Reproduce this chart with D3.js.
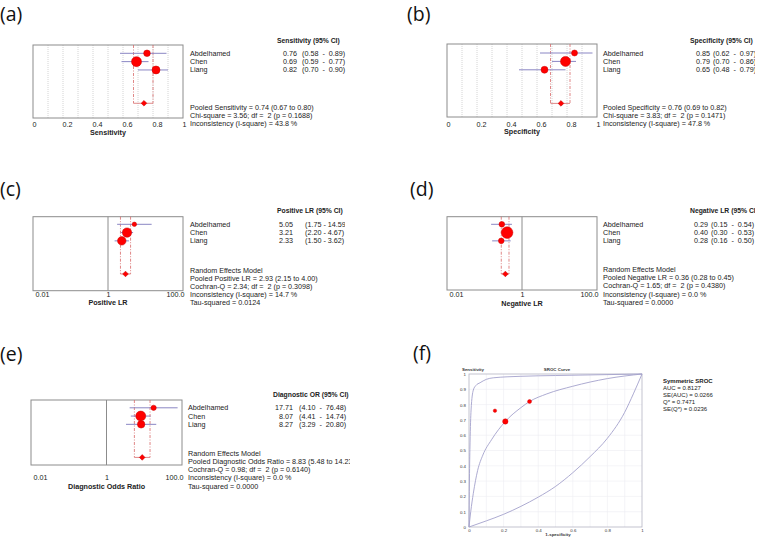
<!DOCTYPE html>
<html>
<head>
<meta charset="utf-8">
<script src="https://cdn.jsdelivr.net/npm/d3@7"></script>
<style>
  body { margin: 0; background: #fff; }
  svg { display: block; font-family: "Liberation Sans", Arial, sans-serif; }
  .txt { font-size: 7.2px; fill: #222; white-space: pre; }
  .bold { font-weight: bold; }
  .hdr { font-size: 6.8px; }
  .tiny { font-size: 4.4px; fill: #333; }
  .legend { font-size: 6px; fill: #222; }
  .panel-label { font-family: "Open Sans", sans-serif; font-size: 19.5px; fill: #111; }
</style>
</head>
<body>
<div id="chart"></div>
<script>
// ---- data ----
const studies = ['Abdelhamed', 'Chen', 'Liang'];

const sensEst = [0.76, 0.69, 0.82];
const sensLo = [0.58, 0.59, 0.70];
const sensHi = [0.89, 0.77, 0.90];
const sensWeight = [11, 25, 16];
const sensPooled = [0.74, 0.67, 0.80];

const specEst = [0.85, 0.79, 0.65];
const specLo = [0.62, 0.70, 0.48];
const specHi = [0.97, 0.86, 0.79];
const specWeight = [9, 25, 12];
const specPooled = [0.76, 0.69, 0.82];

const plrEst = [5.05, 3.21, 2.33];
const plrLo = [1.75, 2.20, 1.50];
const plrHi = [14.59, 4.67, 3.62];
const plrWeight = [5, 22, 18];
const plrPooled = [2.93, 2.15, 4.00];

const nlrEst = [0.29, 0.40, 0.28];
const nlrLo = [0.15, 0.30, 0.16];
const nlrHi = [0.54, 0.53, 0.50];
const nlrWeight = [8, 34, 8];
const nlrPooled = [0.36, 0.28, 0.45];

const dorEst = [17.71, 8.07, 8.27];
const dorLo = [4.10, 4.41, 3.29];
const dorHi = [76.48, 14.74, 20.80];
const dorWeight = [7, 25, 14];
const dorPooled = [8.83, 5.48, 14.23];

const linTicks = [0, 0.2, 0.4, 0.6, 0.8, 1];
const logTicks = [0.01, 1, 100];
const logTickLabels = ['0.01', '1', '100.0'];

// SROC curves: [1-specificity, sensitivity]
const srocMidFpr = [0, 0.01, 0.025, 0.05, 0.08, 0.13, 0.21, 0.3, 0.35, 0.45, 0.6, 0.8, 1];
const srocMidTpr = [0, 0.1, 0.22, 0.37, 0.47, 0.57, 0.69, 0.78, 0.82, 0.87, 0.92, 0.97, 1];
const srocUpFpr = [0, 0.003, 0.006, 0.012, 0.025, 0.04, 0.064, 0.1, 0.14, 0.3, 0.5, 0.7, 1];
const srocUpTpr = [0, 0.35, 0.55, 0.765, 0.895, 0.925, 0.943, 0.965, 0.975, 0.985, 0.99, 0.994, 1];
const srocLowFpr = [0, 0.1, 0.2, 0.3, 0.4, 0.5, 0.6, 0.7, 0.8, 0.9, 0.95, 1];
const srocLowTpr = [0, 0.04, 0.083, 0.135, 0.195, 0.265, 0.355, 0.46, 0.58, 0.75, 0.87, 1];
const srocWeight = [3, 7.3, 4];
const srocStats = ['AUC = 0.8127', 'SE(AUC) = 0.0266', 'Q* = 0.7471', 'SE(Q*) = 0.0236'];

const f2 = d3.format('.2f');

const sensStats = [
	`Pooled Sensitivity = ${f2(sensPooled[0])} (${f2(sensPooled[1])} to ${f2(sensPooled[2])})`,
	'Chi-square = 3.56; df =  2 (p = 0.1688)',
	'Inconsistency (I-square) = 43.8 %'];
const specStats = [
	`Pooled Specificity = ${f2(specPooled[0])} (${f2(specPooled[1])} to ${f2(specPooled[2])})`,
	'Chi-square = 3.83; df =  2 (p = 0.1471)',
	'Inconsistency (I-square) = 47.8 %'];
const plrStats = ['Random Effects Model',
	`Pooled Positive LR = ${f2(plrPooled[0])} (${f2(plrPooled[1])} to ${f2(plrPooled[2])})`,
	'Cochran-Q = 2.34; df =  2 (p = 0.3098)',
	'Inconsistency (I-square) = 14.7 %',
	'Tau-squared = 0.0124'];
const nlrStats = ['Random Effects Model',
	`Pooled Negative LR = ${f2(nlrPooled[0])} (${f2(nlrPooled[1])} to ${f2(nlrPooled[2])})`,
	'Cochran-Q = 1.65; df =  2 (p = 0.4380)',
	'Inconsistency (I-square) = 0.0 %',
	'Tau-squared = 0.0000'];
const dorStats = ['Random Effects Model',
	`Pooled Diagnostic Odds Ratio = ${f2(dorPooled[0])} (${f2(dorPooled[1])} to ${f2(dorPooled[2])})`,
	'Cochran-Q = 0.98; df =  2 (p = 0.6140)',
	'Inconsistency (I-square) = 0.0 %',
	'Tau-squared = 0.0000'];

// ---- layout ----
const W = 760, H = 538;
const svg = d3.select('#chart').append('svg').attr('width', W).attr('height', H);
svg.append('rect').attr('width', W).attr('height', H).attr('fill', '#fff');

const panels = [
	{ id: 'a', label: '(a)', labelX: 0, labelY: 21, log: false, x0: 33, x1: 183, top: 45, bottom: 118, row0: 53.3, step: 8.33,
		header: 'Sensitivity (95% CI)', headerX: 277, headerY: 41, nameX: 190, valX: 297, ciX: 302, ciSep: '  -  ', clipR: 346,
		stats0: 107, statsStep: 8, tickY: 124, title: 'Sensitivity', titleY: 132,
		est: sensEst, lo: sensLo, hi: sensHi, w: sensWeight, pooled: sensPooled, stats: sensStats },
	{ id: 'b', label: '(b)', labelX: 407, labelY: 21, log: false, x0: 447, x1: 597, top: 44, bottom: 117, row0: 53, step: 8.4,
		header: 'Specificity (95% CI)', headerX: 690, headerY: 41, nameX: 603, valX: 710, ciX: 713, ciSep: '  -  ', clipR: 755,
		stats0: 107.3, statsStep: 8, tickY: 124, title: 'Specificity', titleY: 131.7,
		est: specEst, lo: specLo, hi: specHi, w: specWeight, pooled: specPooled, stats: specStats },
	{ id: 'c', label: '(c)', labelX: 0, labelY: 196, log: true, x0: 33, x1: 183, top: 216.7, bottom: 290.7, row0: 224.3, step: 8.28,
		header: 'Positive LR (95% CI)', headerX: 277, headerY: 211, nameX: 190, valX: 293, ciX: 305, ciSep: ' - ', clipR: 345,
		stats0: 270, statsStep: 8.2, tickY: 294.3, title: 'Positive LR', titleY: 302.7,
		est: plrEst, lo: plrLo, hi: plrHi, w: plrWeight, pooled: plrPooled, stats: plrStats },
	{ id: 'd', label: '(d)', labelX: 410, labelY: 196, log: true, x0: 447, x1: 597, top: 216.7, bottom: 290, row0: 224.3, step: 8.28,
		header: 'Negative LR (95% CI)', headerX: 690, headerY: 211, nameX: 603, valX: 708, ciX: 711, ciSep: '  -  ', clipR: 755,
		stats0: 269.5, statsStep: 8.2, tickY: 294.7, title: 'Negative LR', titleY: 303.3,
		est: nlrEst, lo: nlrLo, hi: nlrHi, w: nlrWeight, pooled: nlrPooled, stats: nlrStats },
	{ id: 'e', label: '(e)', labelX: 0, labelY: 361, log: true, x0: 31, x1: 182, top: 400, bottom: 465, row0: 407.8, step: 8.27,
		header: 'Diagnostic OR (95% CI)', headerX: 273, headerY: 395, nameX: 188, valX: 293, ciX: 299, ciSep: '  -  ', clipR: 350,
		stats0: 453.3, statsStep: 8.2, tickY: 477.7, title: 'Diagnostic Odds Ratio', titleY: 486.7,
		est: dorEst, lo: dorLo, hi: dorHi, w: dorWeight, pooled: dorPooled, stats: dorStats }
];

const rScale = d3.scaleSqrt().domain([0, 25]).range([0, 5]);

function drawForest(cfg) {
	const g = svg.append('g').attr('class', 'panel-' + cfg.id);

	const x = cfg.log
		? d3.scaleLog().domain([0.01, 100]).range([cfg.x0, cfg.x1])
		: d3.scaleLinear().domain([0, 1]).range([cfg.x0, cfg.x1]);
	const y = d3.scaleLinear().domain([0, 1]).range([cfg.row0, cfg.row0 + cfg.step]);
	const pooledRow = 6;

	// panel letter
	svg.append('text').attr('class', 'panel-label').attr('x', cfg.labelX).attr('y', cfg.labelY).text(cfg.label);

	// grid / reference line
	if (!cfg.log) {
		g.selectAll('.grid').data(d3.range(1, 10).map(d => d / 10)).join('line')
			.attr('x1', d => x(d)).attr('x2', d => x(d))
			.attr('y1', cfg.top).attr('y2', cfg.bottom)
			.attr('stroke', '#d4d4d4').attr('stroke-dasharray', '1,1');
	} else {
		g.append('line').attr('x1', x(1)).attr('x2', x(1)).attr('y1', cfg.top).attr('y2', cfg.bottom)
			.attr('stroke', '#8c8c8c');
	}

	// box
	g.append('rect').attr('x', cfg.x0).attr('y', cfg.top)
		.attr('width', cfg.x1 - cfg.x0).attr('height', cfg.bottom - cfg.top)
		.attr('fill', 'none').attr('stroke', '#8c8c8c');

	// pooled CI lines
	const yp = y(pooledRow);
	g.selectAll('.pci').data([cfg.pooled[1], cfg.pooled[2]]).join('line')
		.attr('x1', d => x(d)).attr('x2', d => x(d))
		.attr('y1', cfg.top).attr('y2', yp)
		.attr('stroke', '#d86a6a').attr('stroke-width', 0.8).attr('stroke-dasharray', '3,1.5,1,1.5');
	g.append('line').attr('x1', x(cfg.pooled[1])).attr('x2', x(cfg.pooled[2]))
		.attr('y1', yp).attr('y2', yp).attr('stroke', '#d86a6a').attr('stroke-width', 0.8);

	// study CIs
	g.selectAll('.ci').data(studies).join('line')
		.attr('x1', (_, i) => x(cfg.lo[i])).attr('x2', (_, i) => x(cfg.hi[i]))
		.attr('y1', (_, i) => y(i)).attr('y2', (_, i) => y(i))
		.attr('stroke', '#8a86c4').attr('stroke-width', 1);

	// study markers
	g.selectAll('.mk').data(studies).join('circle')
		.attr('cx', (_, i) => x(cfg.est[i])).attr('cy', (_, i) => y(i))
		.attr('r', (_, i) => rScale(cfg.w[i]))
		.attr('fill', '#ff0000').attr('stroke', '#c80000').attr('stroke-width', 0.5);

	// pooled marker
	g.append('path').attr('d', d3.symbol(d3.symbolSquare, 16)())
		.attr('transform', `translate(${x(cfg.pooled[0])},${yp}) rotate(45)`)
		.attr('fill', '#ff0000').attr('stroke', '#c80000').attr('stroke-width', 0.5);

	// axis
	const axis = d3.axisBottom(x).tickValues(cfg.log ? logTicks : linTicks).tickSize(0)
		.tickFormat((d, i) => cfg.log ? logTickLabels[i] : (d === 0 || d === 1 ? String(d) : d.toFixed(1)));
	const ag = g.append('g').attr('transform', `translate(0,${cfg.tickY})`).call(axis)
		.attr('font-size', null).attr('font-family', null);
	ag.select('.domain').remove();
	ag.selectAll('text').attr('class', 'txt').attr('y', 0).attr('dy', '0.35em')
		.attr('text-anchor', (d, i) => cfg.log ? ['start', 'middle', 'end'][i] : 'start')
		.attr('dx', (d, i) => cfg.log ? [2, 0, 1][i] : -1);

	g.append('text').attr('class', 'txt bold').attr('text-anchor', 'middle')
		.attr('x', (cfg.x0 + cfg.x1) / 2).attr('y', cfg.titleY).attr('dy', '0.35em').text(cfg.title);

	// text columns (clipped on the right like the original export)
	svg.append('clipPath').attr('id', 'clip-' + cfg.id).append('rect')
		.attr('x', cfg.x1).attr('y', cfg.top - 20).attr('width', cfg.clipR - cfg.x1).attr('height', 120);
	const tg = svg.append('g').attr('clip-path', `url(#clip-${cfg.id})`);

	tg.append('text').attr('class', 'txt bold hdr').attr('x', cfg.headerX).attr('y', cfg.headerY)
		.attr('dy', '0.35em').text(cfg.header);
	tg.selectAll('.nm').data(studies).join('text').attr('class', 'txt')
		.attr('x', cfg.nameX).attr('y', (_, i) => y(i)).attr('dy', '0.35em').text(d => d);
	tg.selectAll('.val').data(studies).join('text').attr('class', 'txt').attr('text-anchor', 'end')
		.attr('x', cfg.valX).attr('y', (_, i) => y(i)).attr('dy', '0.35em').text((_, i) => f2(cfg.est[i]));
	tg.selectAll('.cit').data(studies).join('text').attr('class', 'txt')
		.attr('x', cfg.ciX).attr('y', (_, i) => y(i)).attr('dy', '0.35em')
		.text((_, i) => `(${f2(cfg.lo[i])}${cfg.ciSep}${f2(cfg.hi[i])})`);
	tg.selectAll('.st').data(cfg.stats).join('text').attr('class', 'txt')
		.attr('x', cfg.nameX).attr('y', (_, i) => cfg.stats0 + i * cfg.statsStep).attr('dy', '0.35em').text(d => d);
}

panels.forEach(drawForest);

// ---- (f) SROC ----
svg.append('text').attr('class', 'panel-label').attr('x', 413).attr('y', 360).text('(f)');

const sx = d3.scaleLinear().domain([0, 1]).range([469, 642]);
const sy = d3.scaleLinear().domain([0, 1]).range([527, 374]);
const fg = svg.append('g');

const gridVals = d3.range(1, 10).map(d => d / 10);
fg.selectAll('.gx').data(gridVals).join('line')
	.attr('x1', d => sx(d)).attr('x2', d => sx(d)).attr('y1', sy(0)).attr('y2', sy(1))
	.attr('stroke', '#ececf2').attr('stroke-width', 0.6);
fg.selectAll('.gy').data(gridVals).join('line')
	.attr('x1', sx(0)).attr('x2', sx(1)).attr('y1', d => sy(d)).attr('y2', d => sy(d))
	.attr('stroke', '#ececf2').attr('stroke-width', 0.6);
fg.append('rect').attr('x', sx(0)).attr('y', sy(1)).attr('width', sx(1) - sx(0)).attr('height', sy(0) - sy(1))
	.attr('fill', 'none').attr('stroke', '#b4b4c4').attr('stroke-width', 0.8);

const yAx = fg.append('g').attr('transform', `translate(${sx(0)},0)`)
	.call(d3.axisLeft(sy).tickValues(d3.range(0, 11).map(d => d / 10)).tickSize(0).tickPadding(3)
		.tickFormat(d => d === 0 || d === 1 ? String(d) : d.toFixed(1)))
	.attr('font-size', null).attr('font-family', null);
yAx.select('.domain').remove();
yAx.selectAll('text').attr('class', 'tiny');

const xAx = fg.append('g').attr('transform', `translate(0,${sy(0)})`)
	.call(d3.axisBottom(sx).tickValues([0, 0.2, 0.4, 0.6, 0.8, 1]).tickSize(0).tickPadding(2)
		.tickFormat(d => d === 0 || d === 1 ? String(d) : d.toFixed(1)))
	.attr('font-size', null).attr('font-family', null);
xAx.select('.domain').remove();
xAx.selectAll('text').attr('class', 'tiny');

const srocLine = d3.line().x(d => sx(d[0])).y(d => sy(d[1])).curve(d3.curveMonotoneX);
const curves = [
	d3.zip(srocUpFpr, srocUpTpr),
	d3.zip(srocMidFpr, srocMidTpr),
	d3.zip(srocLowFpr, srocLowTpr)
];
fg.selectAll('.curve').data(curves).join('path')
	.attr('d', srocLine).attr('fill', 'none').attr('stroke', '#a4a2cc').attr('stroke-width', 0.9);

const srocR = d3.scaleSqrt().domain([0, 9]).range([0, 3]);
fg.selectAll('.pt').data(studies).join('circle')
	.attr('cx', (_, i) => sx(1 - specEst[i])).attr('cy', (_, i) => sy(sensEst[i]))
	.attr('r', (_, i) => srocR(srocWeight[i]))
	.attr('fill', '#ff0000').attr('stroke', '#d00000').attr('stroke-width', 0.4);

fg.append('text').attr('class', 'tiny bold').attr('x', 462).attr('y', 369).attr('dy', '0.35em').text('Sensitivity');
fg.append('text').attr('class', 'tiny bold').attr('text-anchor', 'middle').attr('x', 557).attr('y', 369).attr('dy', '0.35em').text('SROC Curve');
fg.append('text').attr('class', 'tiny bold').attr('text-anchor', 'middle').attr('x', 558).attr('y', 534.5).attr('dy', '0.35em').text('1-specificity');

fg.append('text').attr('class', 'legend bold').attr('x', 663).attr('y', 381).attr('dy', '0.35em').text('Symmetric SROC');
fg.selectAll('.lg').data(srocStats).join('text').attr('class', 'legend')
	.attr('x', 663).attr('y', (_, i) => 388 + i * 6.9).attr('dy', '0.35em').text(d => d);
</script>
</body>
</html>
